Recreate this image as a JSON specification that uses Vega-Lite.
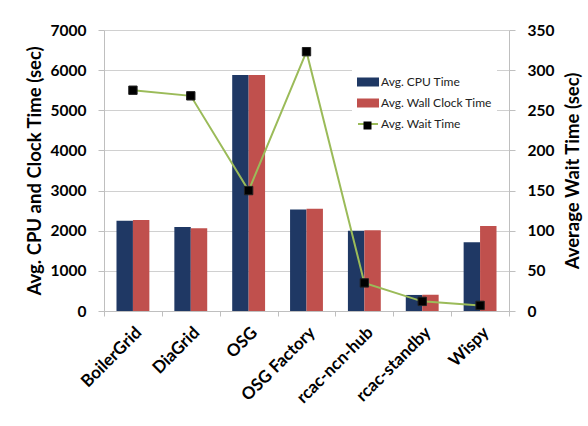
{
  "$schema": "https://vega.github.io/schema/vega-lite/v6.json",
  "width": 405,
  "height": 281,
  "autosize": "none",
  "padding": {"left": 104, "top": 30, "right": 79, "bottom": 115},
  "background": "white",
  "config": {
    "view": {"stroke": null},
    "font": "Lato",
    "axis": {
      "labelFont": "Lato", "titleFont": "Lato", "labelFontWeight": "bold", "titleFontWeight": "bold",
      "labelColor": "black", "titleColor": "black", "domainColor": "#BFBFBF", "tickColor": "#BFBFBF"
    }
  },
  "datasets": {
    "bars": [
      {"site": "BoilerGrid", "series": "Avg. CPU Time", "value": 2250},
      {"site": "BoilerGrid", "series": "Avg. Wall Clock Time", "value": 2270},
      {"site": "DiaGrid", "series": "Avg. CPU Time", "value": 2095},
      {"site": "DiaGrid", "series": "Avg. Wall Clock Time", "value": 2060},
      {"site": "OSG", "series": "Avg. CPU Time", "value": 5880},
      {"site": "OSG", "series": "Avg. Wall Clock Time", "value": 5880},
      {"site": "OSG Factory", "series": "Avg. CPU Time", "value": 2530},
      {"site": "OSG Factory", "series": "Avg. Wall Clock Time", "value": 2550},
      {"site": "rcac-ncn-hub", "series": "Avg. CPU Time", "value": 2000},
      {"site": "rcac-ncn-hub", "series": "Avg. Wall Clock Time", "value": 2010},
      {"site": "rcac-standby", "series": "Avg. CPU Time", "value": 400},
      {"site": "rcac-standby", "series": "Avg. Wall Clock Time", "value": 405},
      {"site": "Wispy", "series": "Avg. CPU Time", "value": 1710},
      {"site": "Wispy", "series": "Avg. Wall Clock Time", "value": 2120}
    ],
    "wait": [
      {"site": "BoilerGrid", "wait": 275},
      {"site": "DiaGrid", "wait": 268},
      {"site": "OSG", "wait": 150},
      {"site": "OSG Factory", "wait": 323},
      {"site": "rcac-ncn-hub", "wait": 35},
      {"site": "rcac-standby", "wait": 12},
      {"site": "Wispy", "wait": 7}
    ]
  },
  "layer": [
    {
      "data": {"name": "bars"},
      "mark": {"type": "bar"},
      "encoding": {
        "x": {
          "field": "site", "type": "nominal",
          "sort": ["BoilerGrid", "DiaGrid", "OSG", "OSG Factory", "rcac-ncn-hub", "rcac-standby", "Wispy"],
          "scale": {"paddingInner": 0, "paddingOuter": 0},
          "axis": {"title": null, "tickBand": "extent", "labelAngle": -45, "labelFontSize": 17, "tickSize": 5, "labelPadding": 8, "grid": false}
        },
        "xOffset": {
          "field": "series", "type": "nominal",
          "sort": ["Avg. CPU Time", "Avg. Wall Clock Time"],
          "scale": {"paddingOuter": 0.76, "paddingInner": 0}
        },
        "y": {
          "field": "value", "type": "quantitative",
          "scale": {"domain": [0, 7000], "nice": false},
          "axis": {
            "title": "Avg. CPU and Clock Time (sec)", "values": [0, 1000, 2000, 3000, 4000, 5000, 6000, 7000], "format": "d",
            "grid": true, "gridColor": "#D0D0D0", "tickSize": 6, "labelFontSize": 15.5, "labelPadding": 12,
            "titleFontSize": 18.5, "titlePadding": 6
          }
        },
        "color": {
          "field": "series", "type": "nominal",
          "scale": {"domain": ["Avg. CPU Time", "Avg. Wall Clock Time", "Avg. Wait Time"], "range": ["#1F3864", "#C0504D", "#9BBB59"]},
          "legend": {
            "title": null, "orient": "none", "legendX": 248, "legendY": 36, "fillColor": "white", "padding": 5,
            "labelFont": "Lato", "labelFontSize": 12, "labelColor": "#222222", "rowPadding": 2, "symbolSize": 400, "labelOffset": 2,
            "encode": {
              "symbols": {
                "update": {
                  "shape": {"signal": "datum.value === 'Avg. Wait Time' ? 'M-1,0H1' : 'M-1,-0.35H1V0.35H-1Z'"},
                  "stroke": {"signal": "datum.value === 'Avg. Wait Time' ? '#9BBB59' : 'transparent'"},
                  "strokeWidth": {"value": 2},
                  "opacity": {"value": 1}
                }
              }
            }
          }
        }
      }
    },
    {
      "data": {"name": "wait"},
      "encoding": {
        "x": {
          "field": "site", "type": "nominal",
          "sort": ["BoilerGrid", "DiaGrid", "OSG", "OSG Factory", "rcac-ncn-hub", "rcac-standby", "Wispy"],
          "axis": {"title": null}
        },
        "y": {
          "field": "wait", "type": "quantitative",
          "scale": {"domain": [0, 350], "nice": false},
          "axis": {
            "orient": "right", "title": "Average Wait Time (sec)", "values": [0, 50, 100, 150, 200, 250, 300, 350], "format": "d",
            "grid": false, "tickSize": 6, "labelFontSize": 15.5, "labelPadding": 12, "titleFontSize": 18.5, "titlePadding": 10,
            "titleAngle": 270, "titleBaseline": "top"
          }
        }
      },
      "layer": [
        {"mark": {"type": "line", "strokeWidth": 2}, "encoding": {"color": {"datum": "Avg. Wait Time"}}},
        {
          "mark": {"type": "point", "filled": true, "fill": "black", "stroke": "#222222", "strokeWidth": 1, "size": 70, "opacity": 1},
          "encoding": {
            "shape": {
              "datum": "Avg. Wait Time",
              "scale": {"domain": ["Avg. Wait Time"], "range": ["square"]},
              "legend": {
                "title": null, "orient": "none", "legendX": 259, "legendY": 91, "padding": 0,
                "labelExpr": "''", "labelFontSize": 1, "labelOffset": 0, "symbolSize": 64,
                "symbolFillColor": "black", "symbolStrokeColor": "black", "symbolStrokeWidth": 1, "symbolOpacity": 1
              }
            }
          }
        }
      ]
    }
  ],
  "resolve": {"scale": {"y": "independent"}}
}
